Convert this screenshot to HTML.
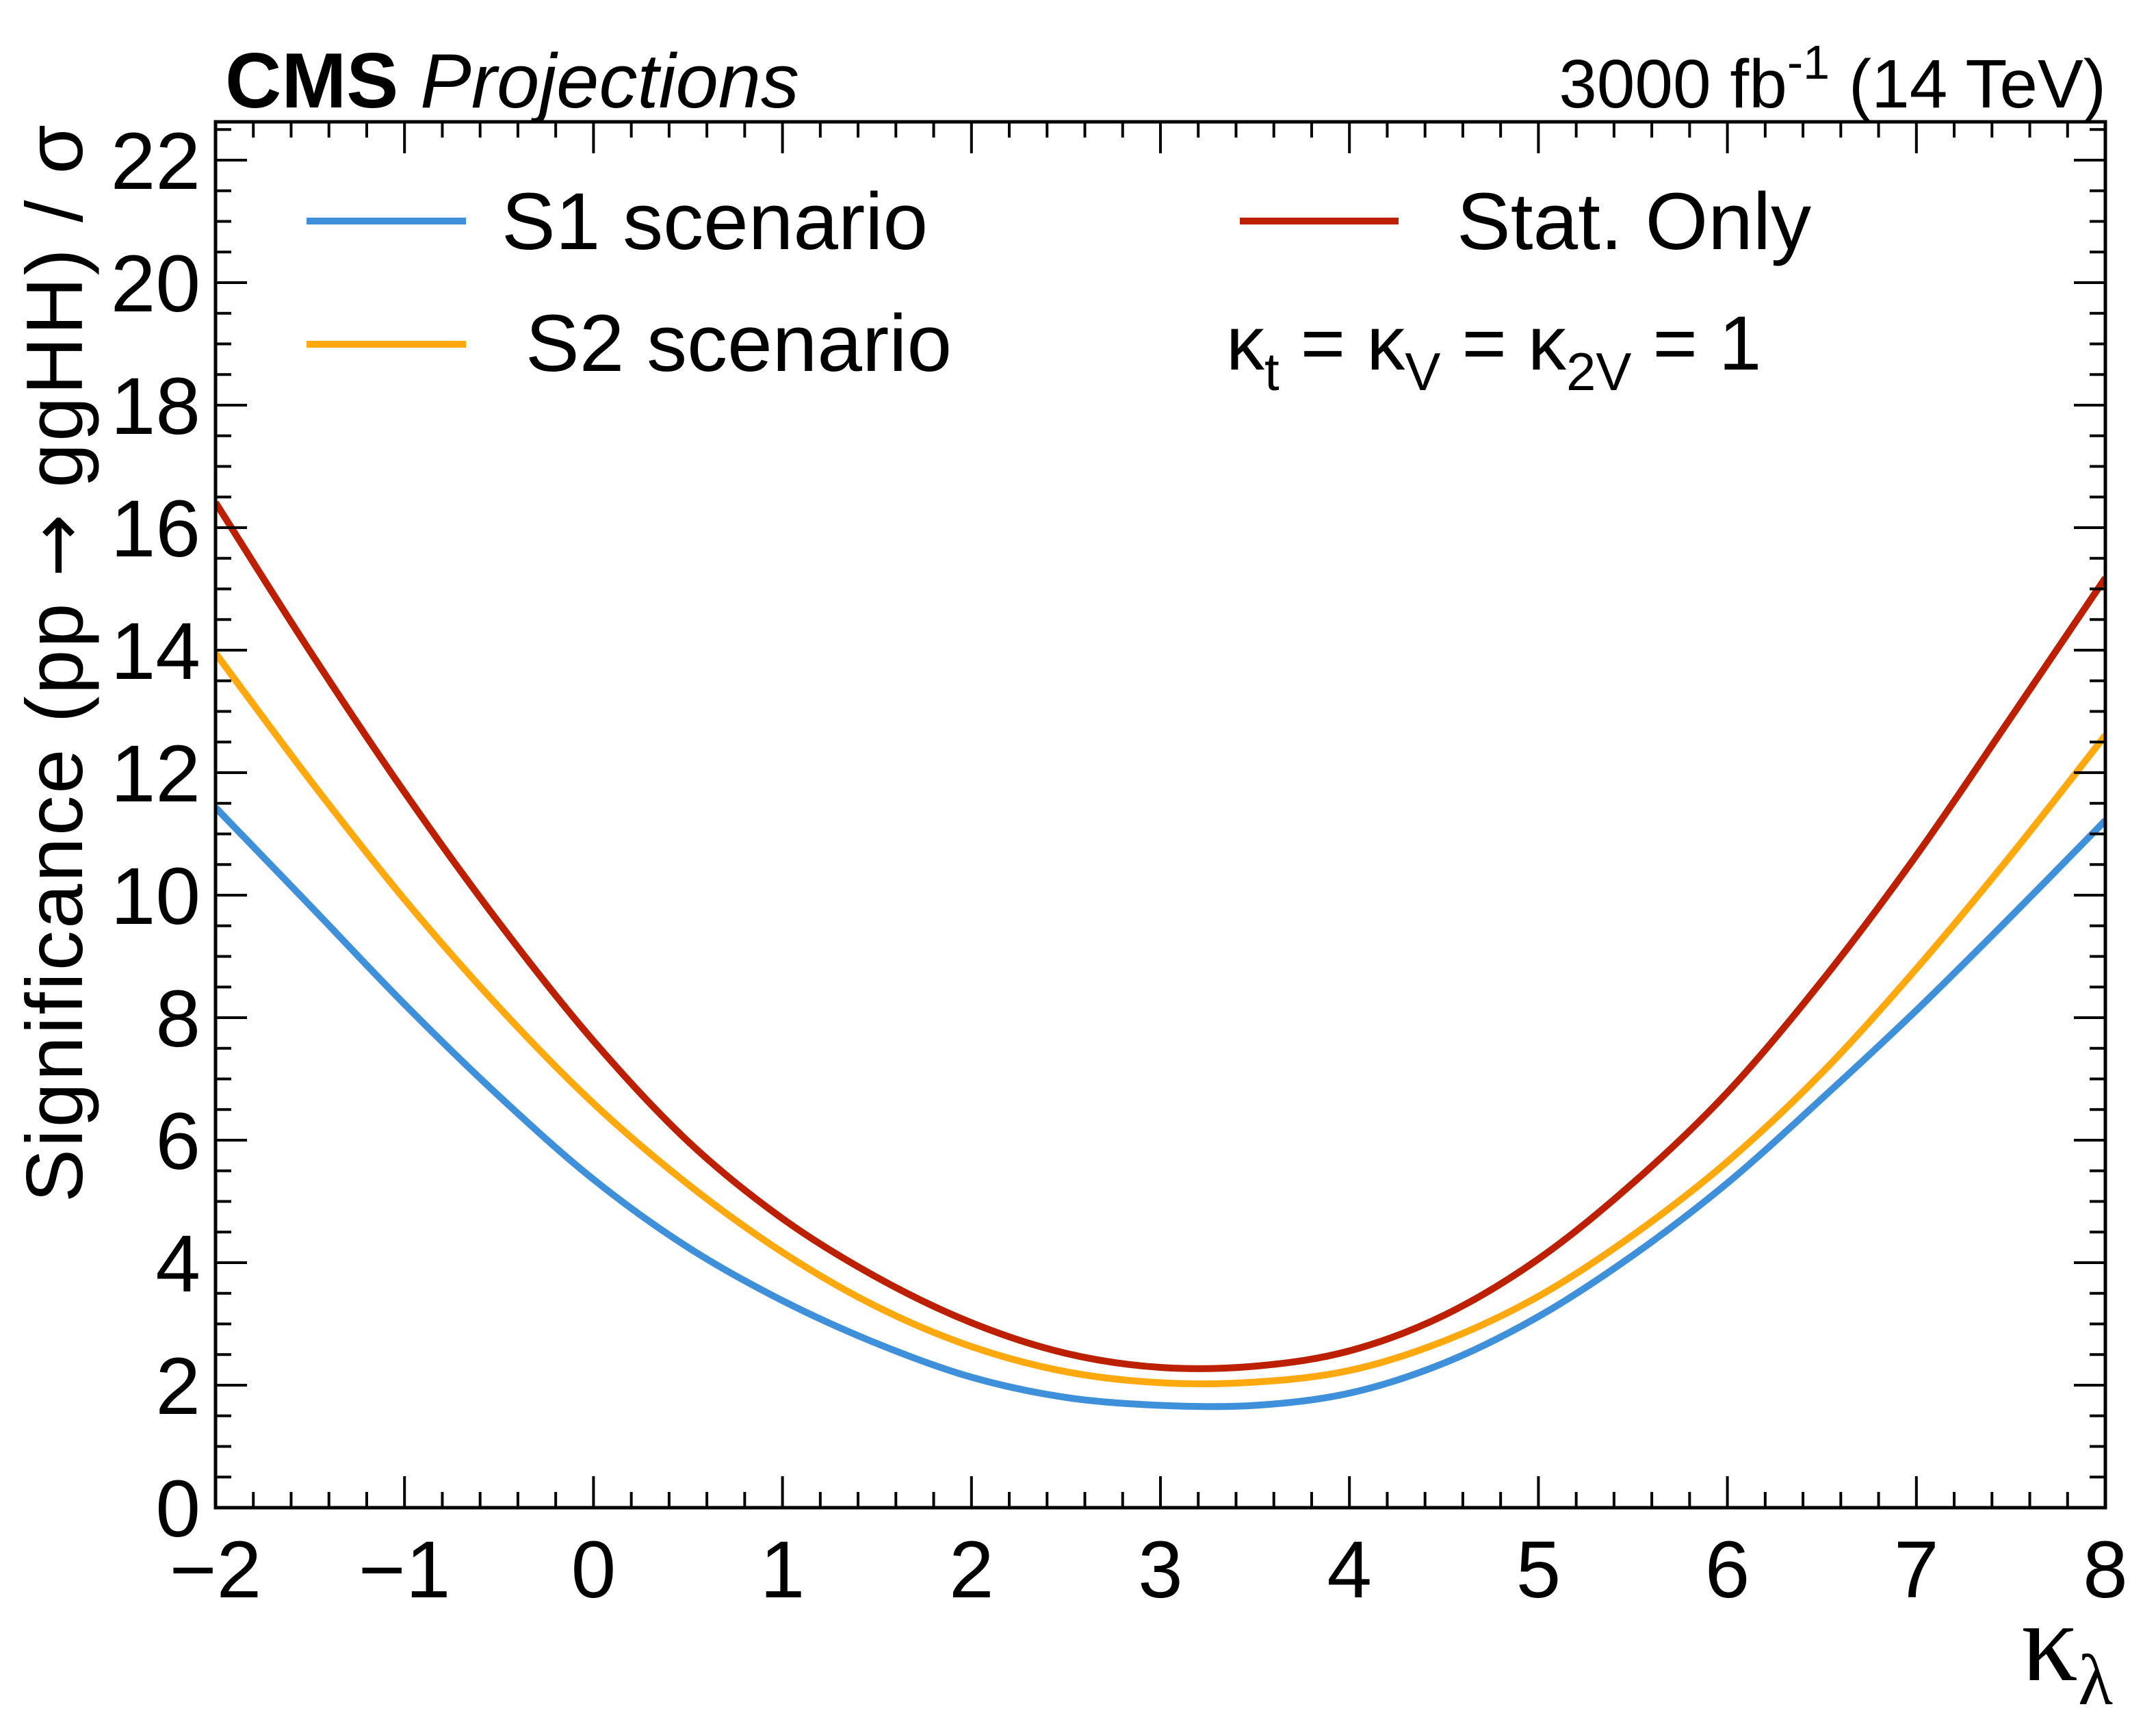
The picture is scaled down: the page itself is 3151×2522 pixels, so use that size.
<!DOCTYPE html>
<html><head><meta charset="utf-8"><style>
html,body{margin:0;padding:0;background:#fff;}
svg{display:block;font-family:"Liberation Sans",sans-serif;}
</style></head><body>
<svg id="chart" width="3151" height="2522" viewBox="0 0 3151 2522" xmlns="http://www.w3.org/2000/svg">
<g id="curves"></g>
<g id="axes"></g>
<text x="329" y="157" font-size="114" font-weight="bold">CMS</text>
<text x="614" y="157" font-size="112" font-style="italic">Projections</text>
<text x="3078" y="157" font-size="100" text-anchor="end">3000 fb<tspan dy="-42" font-size="70">-1</tspan><tspan dy="42"> (14 TeV)</tspan></text>
<text transform="translate(120,182) rotate(-90)" font-size="117" text-anchor="end" textLength="1575" lengthAdjust="spacing">Significance (pp  <tspan font-family="DejaVu Sans, sans-serif" font-size="110">→</tspan> ggHH) / σ</text>
<text x="3088" y="2455" font-size="165" text-anchor="end" font-family="Liberation Serif, serif">κ<tspan dy="35" font-size="105">λ</tspan></text>
<g>
  <line x1="448" y1="323" x2="681" y2="323" stroke="#3f90da" stroke-width="10"/>
  <text x="733" y="364" font-size="118">S1 scenario</text>
  <line x1="448" y1="503" x2="681" y2="503" stroke="#ffa90e" stroke-width="10"/>
  <text x="768" y="542" font-size="118">S2 scenario</text>
  <line x1="1812" y1="323" x2="2044" y2="323" stroke="#bd1f01" stroke-width="10"/>
  <text x="2129" y="364" font-size="118">Stat. Only</text>
  <text x="1792" y="540" font-size="112">κ<tspan dy="30" font-size="78">t</tspan><tspan dy="-30"> = κ</tspan><tspan dy="30" font-size="78">V</tspan><tspan dy="-30"> = κ</tspan><tspan dy="30" font-size="78">2V</tspan><tspan dy="-30"> = 1</tspan></text>
</g>
</svg>
<script>
const kl = [-2,-1.5,-1,-0.5,0,0.5,1,1.5,2,2.5,3,3.5,4,4.5,5,5.5,6,6.5,7,7.5,8];
const s1 = [11.43,9.83,8.22,6.72,5.36,4.25,3.38,2.68,2.13,1.8,1.67,1.67,1.87,2.36,3.12,4.12,5.3,6.68,8.12,9.65,11.22];
const s2 = [13.95,11.88,9.93,8.17,6.6,5.28,4.17,3.28,2.63,2.22,2.04,2.05,2.24,2.72,3.45,4.45,5.65,7.1,8.8,10.65,12.61];
const statOnly = [16.41,13.98,11.68,9.55,7.62,5.98,4.72,3.76,3.02,2.52,2.29,2.31,2.56,3.14,4.06,5.3,6.78,8.6,10.65,12.9,15.18];
const xTicks = [-2,-1,0,1,2,3,4,5,6,7,8];
const yTicks = [0,2,4,6,8,10,12,14,16,18,20,22];
const xTickLabels = ["\u22122","\u22121","0","1","2","3","4","5","6","7","8"];

const L=315,R=3077,T=178,B=2203,XMIN=-2,XMAX=8,YMAX=(B-T)/89.5;
const sx=v=>L+(v-XMIN)/(XMAX-XMIN)*(R-L);
const sy=v=>B-v/YMAX*(B-T);
const NS="http://www.w3.org/2000/svg";
const axes=document.getElementById('axes');
const curves=document.getElementById('curves');
function mk(tag,attrs,parent){const e=document.createElementNS(NS,tag);for(const k in attrs)e.setAttribute(k,attrs[k]);parent.appendChild(e);return e;}

function pathFor(xs,ys){
  const p=xs.map((x,i)=>[sx(x),sy(ys[i])]);
  let d=`M${p[0][0]},${p[0][1]}`;
  for(let i=0;i<p.length-1;i++){
    const p0=p[i-1]||p[i],p1=p[i],p2=p[i+1],p3=p[i+2]||p[i+1];
    const c1=[p1[0]+(p2[0]-p0[0])/6,p1[1]+(p2[1]-p0[1])/6];
    const c2=[p2[0]-(p3[0]-p1[0])/6,p2[1]-(p3[1]-p1[1])/6];
    d+=` C${c1[0]},${c1[1]} ${c2[0]},${c2[1]} ${p2[0]},${p2[1]}`;
  }
  return d;
}
const clip=mk('clipPath',{id:'plotclip'},document.getElementById('chart'));
mk('rect',{x:L,y:T,width:R-L,height:B-T},clip);
curves.setAttribute('clip-path','url(#plotclip)');
const series=[[s1,'#3f90da','curve-s1'],[s2,'#ffa90e','curve-s2'],[statOnly,'#bd1f01','curve-stat-only']];
series.forEach(([ys,c,n])=>{
  const el=mk('path',{d:pathFor(kl,ys),fill:'none',stroke:c,'stroke-width':10,'stroke-linejoin':'round'},curves);
  
  
});

for(let v=XMIN;v<=XMAX+1e-9;v+=0.2){
  const major=Math.abs(v-Math.round(v))<1e-6;
  const len=major?46:23;const x=sx(v);
  const t1=mk('line',{x1:x,y1:B,x2:x,y2:B-len,stroke:'#000','stroke-width':4},axes);
  
  
  const t2=mk('line',{x1:x,y1:T,x2:x,y2:T+len,stroke:'#000','stroke-width':4},axes);
  
  
}
for(let v=0;v<=YMAX;v+=0.5){
  const major=Math.abs(v/2-Math.round(v/2))<1e-6;
  const len=major?46:23;const y=sy(v);
  const t1=mk('line',{x1:L,y1:y,x2:L+len,y2:y,stroke:'#000','stroke-width':4},axes);
  
  
  const t2=mk('line',{x1:R,y1:y,x2:R-len,y2:y,stroke:'#000','stroke-width':4},axes);
  
  
}
xTicks.forEach((v,i)=>{
  const t=mk('text',{x:sx(v),y:2334,'font-size':118,'text-anchor':'middle'},axes);
  t.textContent=xTickLabels[i];
  
  
});
yTicks.forEach(v=>{
  const t=mk('text',{x:293,y:sy(v)+42,'font-size':118,'text-anchor':'end'},axes);
  t.textContent=String(v);
  
  
});
const frame=mk('rect',{x:L,y:T,width:R-L,height:B-T,fill:'none',stroke:'#000','stroke-width':5},axes);


</script>
</body></html>
